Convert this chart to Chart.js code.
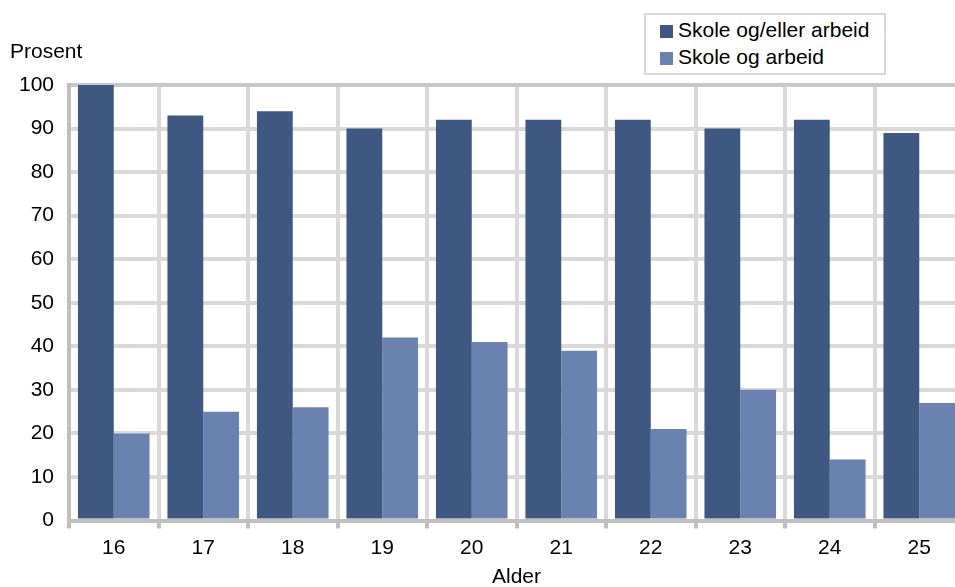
<!DOCTYPE html>
<html>
<head>
<meta charset="utf-8">
<script src="https://cdn.jsdelivr.net/npm/chart.js@4"></script>
<style>
  html, body { margin: 0; padding: 0; background: #fff; overflow: hidden; }
  #wrap { position: relative; width: 980px; height: 590px; }
  #legend { position: absolute; left: 644px; top: 13px; width: 238px; height: 58px;
    border: 2px solid #d9d9d9; background: #fff; font-family: "Liberation Sans", Arial, sans-serif;
    font-size: 21px; color: #000; }
  .item { position: absolute; left: 14px; height: 24px; line-height: 24px; white-space: nowrap; }
  .sw { display: inline-block; width: 13px; height: 13px; margin-right: 5px; vertical-align: -1px; }
</style>
</head>
<body>
<div id="wrap">
  <canvas id="c" width="980" height="590"></canvas>
  <div id="legend"></div>
</div>
<script>
const categories = ['16', '17', '18', '19', '20', '21', '22', '23', '24', '25'];
const seriesNames = ['Skole og/eller arbeid', 'Skole og arbeid'];
const skoleEllerArbeid = [100, 93, 94, 90, 92, 92, 92, 90, 92, 89];
const skoleOgArbeid = [20, 25, 26, 42, 41, 39, 21, 30, 14, 27];
const colors = ['#3e5882', '#6a82b0'];
const yTitle = 'Prosent';
const xTitle = 'Alder';

const FONT = '"Liberation Sans", Arial, sans-serif';

// HTML legend
const leg = document.getElementById('legend');
seriesNames.forEach((n, i) => {
  const d = document.createElement('div');
  d.className = 'item';
  d.style.top = (3 + i * 27) + 'px';
  d.innerHTML = '<span class="sw" style="background:' + colors[i] + '"></span>' + n;
  leg.appendChild(d);
});

const prosentPlugin = {
  id: 'prosent',
  afterDraw(chart) {
    const ctx = chart.ctx;
    ctx.save();
    ctx.font = '21px ' + FONT;
    ctx.fillStyle = '#000';
    ctx.textAlign = 'left';
    ctx.textBaseline = 'middle';
    ctx.fillText(yTitle, 10, chart.chartArea.top - 33);
    ctx.restore();
  }
};

new Chart(document.getElementById('c'), {
  type: 'bar',
  data: {
    labels: categories,
    datasets: [
      { label: seriesNames[0], data: skoleEllerArbeid, backgroundColor: colors[0], borderWidth: 0 },
      { label: seriesNames[1], data: skoleOgArbeid, backgroundColor: colors[1], borderWidth: 0 }
    ]
  },
  options: {
    responsive: false,
    animation: false,
    devicePixelRatio: 1,
    layout: { padding: { top: 85, right: 16, left: 0, bottom: 0 } },
    plugins: { legend: { display: false }, tooltip: { enabled: false }, title: { display: false } },
    datasets: { bar: { categoryPercentage: 0.8, barPercentage: 1.0 } },
    scales: {
      x: {
        grid: { color: '#d9d9d9', lineWidth: 4, tickColor: '#bfbfbf', tickLength: 8, offset: true },
        border: { color: '#bfbfbf', width: 4 },
        ticks: { color: '#000', font: { family: FONT, size: 21 }, padding: 7, maxRotation: 0 },
        title: { display: true, text: xTitle, color: '#000', font: { family: FONT, size: 21 }, padding: { top: 0, bottom: 0 } },
        afterFit(s) { s.height = 69.5; }
      },
      y: {
        min: 0, max: 100,
        grid: { color: (c) => c.tick && c.tick.value === 100 ? '#c8c8c8' : '#d9d9d9', lineWidth: 4, drawTicks: false },
        border: { color: '#bfbfbf', width: 4 },
        ticks: { stepSize: 10, color: '#000', font: { family: FONT, size: 21 }, padding: 15 },
        afterFit(s) { s.width = 69; }
      }
    }
  },
  plugins: [prosentPlugin]
});
</script>
</body>
</html>
